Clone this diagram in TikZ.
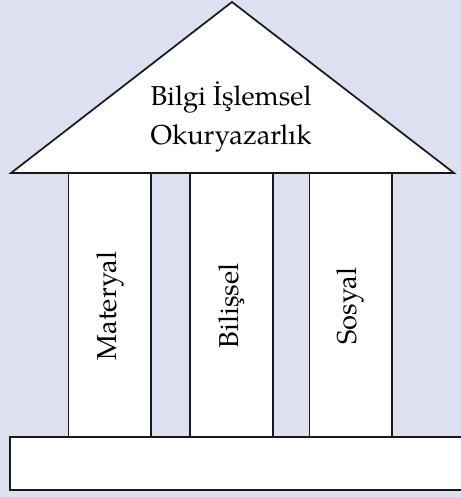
\documentclass[tikz,border=0pt]{standalone}
\usepackage{fontspec}
\setmainfont{TeX Gyre Pagella}
\definecolor{bgc}{RGB}{221,224,240}
\definecolor{linec}{RGB}{25,25,25}
\tikzset{
  part/.style={draw=linec, fill=white, line width=1.3pt},
  lbl/.style={font=\fontsize{20.5}{29}\selectfont, text=black, align=center, inner sep=0pt},
}
\begin{document}
\begin{tikzpicture}[x=0.75pt,y=-0.75pt]
\fill[bgc] (0,0) rectangle (461,497);
\useasboundingbox (0,0) rectangle (461,497);
\clip (0,0) rectangle (461,497);
% columns
\draw[part] (68.5,160) rectangle (151,437);
\draw[part] (190,160) rectangle (273,437);
\draw[part] (309.5,160) rectangle (392,437);
% roof
\coordinate (apex) at (232,2);
\coordinate (bl) at (11,173);
\coordinate (br) at (454,173);
\draw[part, line join=miter] (apex) -- (br) -- (bl) -- cycle;
% base
\draw[part] (10,437) rectangle (475,490);
% labels
\node[lbl] (roof) at (231,117) {Bilgi İşlemsel\\Okuryazarlık};
\node[lbl, rotate=90] (mat) at (110,306) {Materyal};
\node[lbl, rotate=90] (bil) at (232,306) {Bilişsel};
\node[lbl, rotate=90] (sos) at (350,306) {Sosyal};
\end{tikzpicture}
\end{document}
